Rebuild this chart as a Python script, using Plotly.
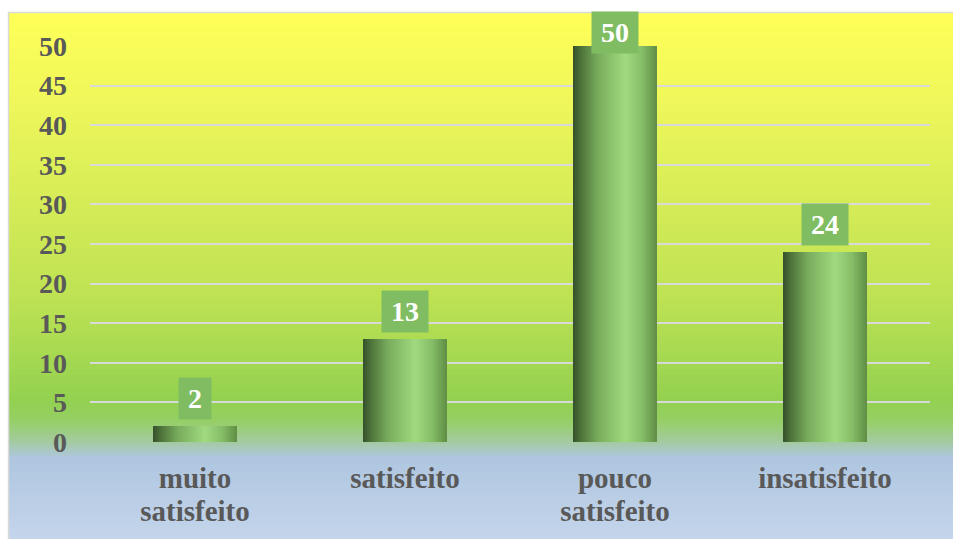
import plotly.graph_objects as go

# Survey results: level of satisfaction
categories = ["muito<br>satisfeito", "satisfeito", "pouco<br>satisfeito", "insatisfeito"]
values = [2, 13, 50, 24]
y_ticks = [0, 5, 10, 15, 20, 25, 30, 35, 40, 45, 50]

W, H = 953, 539
L, R, T, B = 90, 23, 46, 97
plot_w = W - L - R
plot_h = H - T - B

FONT = "Liberation Serif, Times New Roman, serif"
TEXT_GREY = "#595959"


def hex_to_rgb(h):
    h = h.lstrip("#")
    return tuple(int(h[i:i + 2], 16) for i in (0, 2, 4))


def lerp_color(stops, t):
    for (t0, c0), (t1, c1) in zip(stops, stops[1:]):
        if t0 <= t <= t1:
            f = 0 if t1 == t0 else (t - t0) / (t1 - t0)
            a, b = hex_to_rgb(c0), hex_to_rgb(c1)
            return "rgb(%d,%d,%d)" % tuple(round(a[k] + (b[k] - a[k]) * f) for k in range(3))
    return stops[-1][1]


fig = go.Figure()

# Cylinder-like horizontal shading for each bar, built from narrow slices
bar_width = 0.4
n_slices = 42
bar_stops = [
    (0.00, "#34502A"),
    (0.08, "#4A6E38"),
    (0.30, "#79AD5C"),
    (0.62, "#A0DA80"),
    (0.82, "#86BE68"),
    (0.95, "#6A9B4E"),
    (1.00, "#5E8C44"),
]
step = bar_width / n_slices
for i in range(n_slices):
    t = (i + 0.5) / n_slices
    w = step * 1.6 if i < n_slices - 1 else step
    fig.add_trace(go.Bar(
        x=list(range(len(values))),
        y=values,
        width=[w] * len(values),
        offset=-bar_width / 2 + i * step,
        marker=dict(color=lerp_color(bar_stops, t), line=dict(width=0)),
        showlegend=False,
        hoverinfo="skip",
    ))

# Value labels in green boxes above the bars
for i, v in enumerate(values):
    txt = str(v)
    fig.add_annotation(
        x=i, y=v, xref="x", yref="y",
        text="<b>%s</b>" % txt,
        showarrow=False,
        yanchor="bottom", yshift=6 if v < 50 else -8,
        font=dict(family=FONT, size=28, color="white"),
        bgcolor="#80BD62",
        width=len(txt) * 14 + 16, height=39,
        align="center", valign="middle",
    )

# Background: yellow-to-green chart fill, blue band below the axis
bg_stops = [
    (12, "#FFFF58"),
    (100, "#EFF75A"),
    (200, "#D6EC57"),
    (300, "#BDE253"),
    (400, "#93D150"),
    (420, "#95CF64"),
    (440, "#A2CB9A"),
    (458, "#AFC6E0"),
    (539, "#C4D5EB"),
]
shapes = []
py = 12
band = 3
while py < H:
    y0p, y1p = py, min(py + band + 1, H)
    shapes.append(dict(
        type="rect", xref="paper", yref="paper", layer="below",
        x0=(8 - L) / plot_w, x1=(W - L) / plot_w,
        y0=(H - B - y1p) / plot_h, y1=(H - B - y0p) / plot_h,
        fillcolor=lerp_color(bg_stops, py + band / 2), line=dict(width=0),
    ))
    py += band
# Chart area outline
shapes.append(dict(
    type="rect", xref="paper", yref="paper", layer="below",
    x0=(8.5 - L) / plot_w, x1=(W + 5 - L) / plot_w,
    y0=(H - B - (H + 5)) / plot_h, y1=(H - B - 12.5) / plot_h,
    line=dict(color="#D9D9D9", width=1.5), fillcolor="rgba(0,0,0,0)",
))

# Category labels: larger glyphs on a tighter line pitch
cat_text = [
    "<br>".join('<span style="font-size:29px"><b>%s</b></span>' % part for part in c.split("<br>"))
    for c in categories
]

fig.update_layout(
    width=W, height=H,
    margin=dict(l=L, r=R, t=T, b=B, pad=0),
    paper_bgcolor="white",
    plot_bgcolor="rgba(0,0,0,0)",
    barmode="overlay",
    bargap=0,
    shapes=shapes,
    font=dict(family=FONT, color=TEXT_GREY),
    xaxis=dict(
        range=[-0.5, len(values) - 0.5],
        tickmode="array", tickvals=list(range(len(values))),
        ticktext=cat_text,
        tickfont=dict(family=FONT, size=25, color=TEXT_GREY),
        showgrid=False, zeroline=False, showline=False,
        ticks="", ticklabelstandoff=20,
        fixedrange=True,
    ),
    yaxis=dict(
        range=[0, 50],
        tickmode="array", tickvals=y_ticks,
        ticktext=["<b>%d</b>" % t for t in y_ticks],
        tickfont=dict(family=FONT, size=28, color=TEXT_GREY),
        showgrid=True, gridcolor="#D9D9D9", gridwidth=2,
        zeroline=False, showline=False,
        ticks="", ticklabelstandoff=22,
        fixedrange=True,
    ),
)

fig.write_html("out.html")
